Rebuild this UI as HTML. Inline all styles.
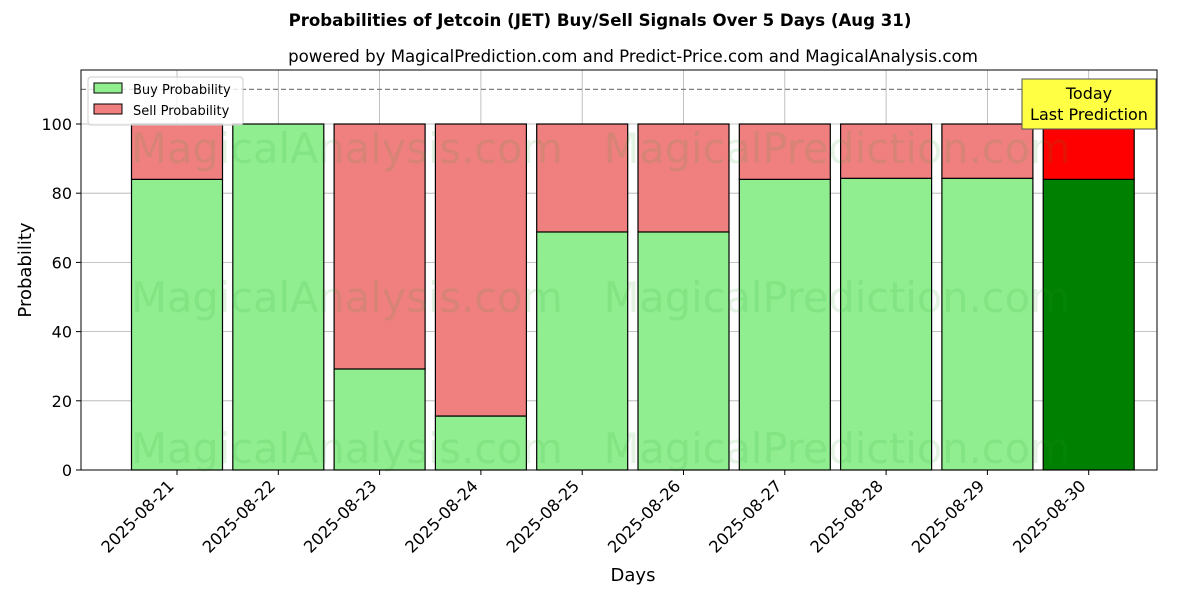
<!DOCTYPE html>
<html><head><meta charset="utf-8"><style>
body{margin:0;background:#fff;font-family:"Liberation Sans","DejaVu Sans",sans-serif}
svg text{font-family:"DejaVu Sans","Liberation Sans",sans-serif}
</style></head><body>
<svg id="chart" width="1200" height="600" xmlns="http://www.w3.org/2000/svg">
<text x="600" y="26" text-anchor="middle" font-size="16.6" font-weight="bold">Probabilities of Jetcoin (JET) Buy/Sell Signals Over 5 Days (Aug 31)</text>
<text x="633" y="62" text-anchor="middle" font-size="16.6">powered by MagicalPrediction.com and Predict-Price.com and MagicalAnalysis.com</text>
<g id="grid"></g>
<g id="bars"></g>
<g id="wm" fill="#2ca02c" fill-opacity="0.12" font-size="41.5">
<text x="347" y="163" text-anchor="middle">MagicalAnalysis.com</text>
<text x="837" y="163" text-anchor="middle">MagicalPrediction.com</text>
<text x="347" y="312" text-anchor="middle">MagicalAnalysis.com</text>
<text x="837" y="312" text-anchor="middle">MagicalPrediction.com</text>
<text x="347" y="463" text-anchor="middle">MagicalAnalysis.com</text>
<text x="837" y="463" text-anchor="middle">MagicalPrediction.com</text>
</g>
<line x1="81" x2="1157" y1="89.4" y2="89.4" stroke="#808080" stroke-width="1.2" stroke-dasharray="5,3"/>
<rect x="81" y="70" width="1076" height="400" fill="none" stroke="#000" stroke-width="1"/>
<g id="axes"></g>
<g>
<rect x="1022" y="79" width="134" height="50" fill="#ffff44" stroke="#555" stroke-width="1"/>
<text x="1089" y="99" text-anchor="middle" font-size="16">Today</text>
<text x="1089" y="120" text-anchor="middle" font-size="16">Last Prediction</text>
</g>
<g>
<rect x="88" y="77" width="155" height="48" fill="#fff" fill-opacity="0.8" stroke="#ccc" rx="3"/>
<rect x="94" y="83" width="28" height="10" fill="#90ee90" stroke="#000"/>
<text x="133" y="94" font-size="13">Buy Probability</text>
<rect x="94" y="104" width="28" height="10" fill="#f08080" stroke="#000"/>
<text x="133" y="115" font-size="13">Sell Probability</text>
</g>
<text x="633" y="581" text-anchor="middle" font-size="18">Days</text>
<text transform="translate(31,270) rotate(-90)" text-anchor="middle" font-size="18">Probability</text>
</svg>
<script>
const categories=["2025-08-21","2025-08-22","2025-08-23","2025-08-24","2025-08-25","2025-08-26","2025-08-27","2025-08-28","2025-08-29","2025-08-30"];
const buyValues=[84,100,29.2,15.6,68.8,68.8,84,84.3,84.3,84];
const sellValues=[16,0,70.8,84.4,31.2,31.2,16,15.7,15.7,16];
const yTicks=[0,20,40,60,80,100];
const NS="http://www.w3.org/2000/svg";
function xS(i){return 177+i*101.3;}
function yS(v){return 470-v*3.46;}
const BW=91;
function mk(tag,attrs,parent){const e=document.createElementNS(NS,tag);for(const k in attrs)e.setAttribute(k,attrs[k]);parent.appendChild(e);return e;}
const grid=document.getElementById('grid'),bars=document.getElementById('bars'),axes=document.getElementById('axes');
yTicks.forEach(t=>{
 const l=mk('line',{x1:81,x2:1157,y1:yS(t),y2:yS(t),stroke:'#b0b0b0','stroke-width':0.8},grid);
 
 
 const tk=mk('line',{x1:76,x2:81,y1:yS(t),y2:yS(t),stroke:'#000'},axes);
 
 
 const tx=mk('text',{x:72,y:yS(t)+6,'text-anchor':'end','font-size':16},axes);
 tx.textContent=t;
 
 
});
categories.forEach((c,i)=>{
 const x=xS(i);
 const g=mk('line',{x1:x,x2:x,y1:70,y2:470,stroke:'#b0b0b0','stroke-width':0.8},grid);
 
 
 const last=i===categories.length-1;
 const b=mk('rect',{x:x-BW/2,y:yS(buyValues[i]),width:BW,height:yS(0)-yS(buyValues[i]),fill:last?'#008000':'#90ee90',stroke:'#000','stroke-width':1.2},bars);
 
 
 const top=buyValues[i]+sellValues[i];
 const s=mk('rect',{x:x-BW/2,y:yS(top),width:BW,height:yS(buyValues[i])-yS(top),fill:last?'#ff0000':'#f08080',stroke:'#000','stroke-width':1.2},bars);
 
 
 const tk=mk('line',{x1:x,x2:x,y1:470,y2:475,stroke:'#000'},axes);
 
 
 const ax=x-2, ay=487;
 const tx=mk('text',{x:ax,y:ay,'text-anchor':'end','font-size':16.3,transform:`rotate(-45 ${ax} ${ay})`},axes);
 tx.textContent=c;
 
 
});
</script>
</body></html>
